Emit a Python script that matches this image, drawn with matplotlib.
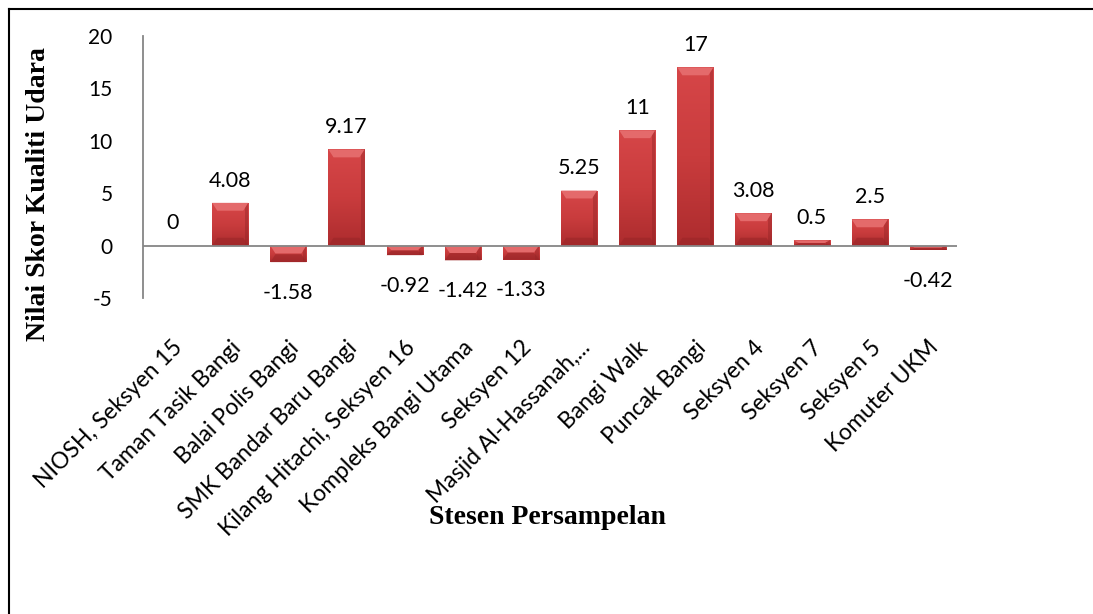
import numpy as np
import matplotlib.pyplot as plt
from matplotlib.lines import Line2D
from matplotlib.patches import Polygon

# Skor kualiti udara bagi setiap stesen persampelan
stesen = ['NIOSH, Seksyen 15', 'Taman Tasik Bangi', 'Balai Polis Bangi',
          'SMK Bandar Baru Bangi', 'Kilang Hitachi, Seksyen 16',
          'Kompleks Bangi Utama', 'Seksyen 12', 'Masjid Al-Hassanah,...',
          'Bangi Walk', 'Puncak Bangi', 'Seksyen 4', 'Seksyen 7',
          'Seksyen 5', 'Komuter UKM']
skor = [0, 4.08, -1.58, 9.17, -0.92, -1.42, -1.33, 5.25, 11, 17,
        3.08, 0.5, 2.5, -0.42]
y_ticks = [-5, 0, 5, 10, 15, 20]

fig = plt.figure(figsize=(10.93, 6.14), dpi=100)
ax = fig.add_axes([143 / 1093, 1 - 298 / 614, 814 / 1093, 262 / 614])

x = np.arange(len(skor))
width = 0.62
bars = ax.bar(x, skor, width=width, color='#c93a3a', edgecolor='none', zorder=2)

ax.set_xlim(-0.5, len(skor) - 0.5)
ax.set_ylim(-5, 20)

# shading: vertical gradient inside each bar
grad = np.linspace(0, 1, 64).reshape(-1, 1)
cmap = plt.matplotlib.colors.LinearSegmentedColormap.from_list(
    'merah', ['#ad2c2e', '#c93c3d', '#d64648'])
for rect, v in zip(bars, skor):
    if v == 0:
        continue
    x0, w = rect.get_x(), rect.get_width()
    y0, y1 = min(0, v), max(0, v)
    im = ax.imshow(grad, extent=(x0, x0 + w, y0, y1), origin='lower',
                   cmap=cmap, aspect='auto', zorder=3)
    im.set_clip_path(rect)
    # darker right edge
    ax.add_patch(plt.Rectangle((x0 + w * 0.9, y0), w * 0.1, y1 - y0,
                               color='#8e2224', alpha=0.4, lw=0, zorder=4))
    # bevel at top and bottom
    b = min(0.75, (y1 - y0) / 2)
    bx = w * 0.14
    ax.add_patch(Polygon([(x0, y1), (x0 + w, y1), (x0 + w - bx, y1 - b),
                          (x0 + bx, y1 - b)], closed=True,
                         color='#e46a6b', lw=0, zorder=5))
    ax.add_patch(Polygon([(x0, y0), (x0 + w, y0), (x0 + w - bx, y0 + b),
                          (x0 + bx, y0 + b)], closed=True,
                         color='#9a2628', alpha=0.6, lw=0, zorder=5))

ax.set_xlim(-0.5, len(skor) - 0.5)
ax.set_ylim(-5, 20)

# value labels
for xi, v in zip(x, skor):
    off = 16 if v >= 0 else -22
    ax.annotate(f'{v:g}', (xi, v), xytext=(0, off), textcoords='offset points',
                ha='center', va='center', fontsize=15.5, family='Lato',
                zorder=6)

ax.axhline(0, color='#868686', lw=1.3, zorder=6)
for s in ['top', 'right', 'bottom']:
    ax.spines[s].set_visible(False)
ax.spines['left'].set_color('#868686')
ax.spines['left'].set_linewidth(1.3)

ax.set_yticks(y_ticks)
ax.set_yticklabels([str(t) for t in y_ticks], family='Lato', fontsize=15)
ax.set_xticks(x)
ax.set_xticklabels(stesen, rotation=45, ha='right', rotation_mode='anchor',
                   family='Lato', fontsize=16.5)
ax.tick_params(axis='y', length=0, pad=22)
ax.tick_params(axis='x', length=0, pad=28)

fig.text(547 / 1093, 1 - 517 / 614, 'Stesen Persampelan', ha='center',
         va='center', family='Liberation Serif', weight='bold', fontsize=20)
fig.text(39 / 1093, 1 - 194 / 614, 'Nilai Skor Kualiti Udara', ha='center',
         va='center', rotation=90, family='Liberation Serif', weight='bold',
         fontsize=20)

# frame around the chart
fig.add_artist(Line2D([9 / 1093, 9 / 1093], [0, 1 - 9 / 614], color='black',
                      lw=1.5, transform=fig.transFigure))
fig.add_artist(Line2D([9 / 1093, 1], [1 - 9 / 614, 1 - 9 / 614], color='black',
                      lw=1.5, transform=fig.transFigure))

fig.savefig('out.png', dpi=100)
